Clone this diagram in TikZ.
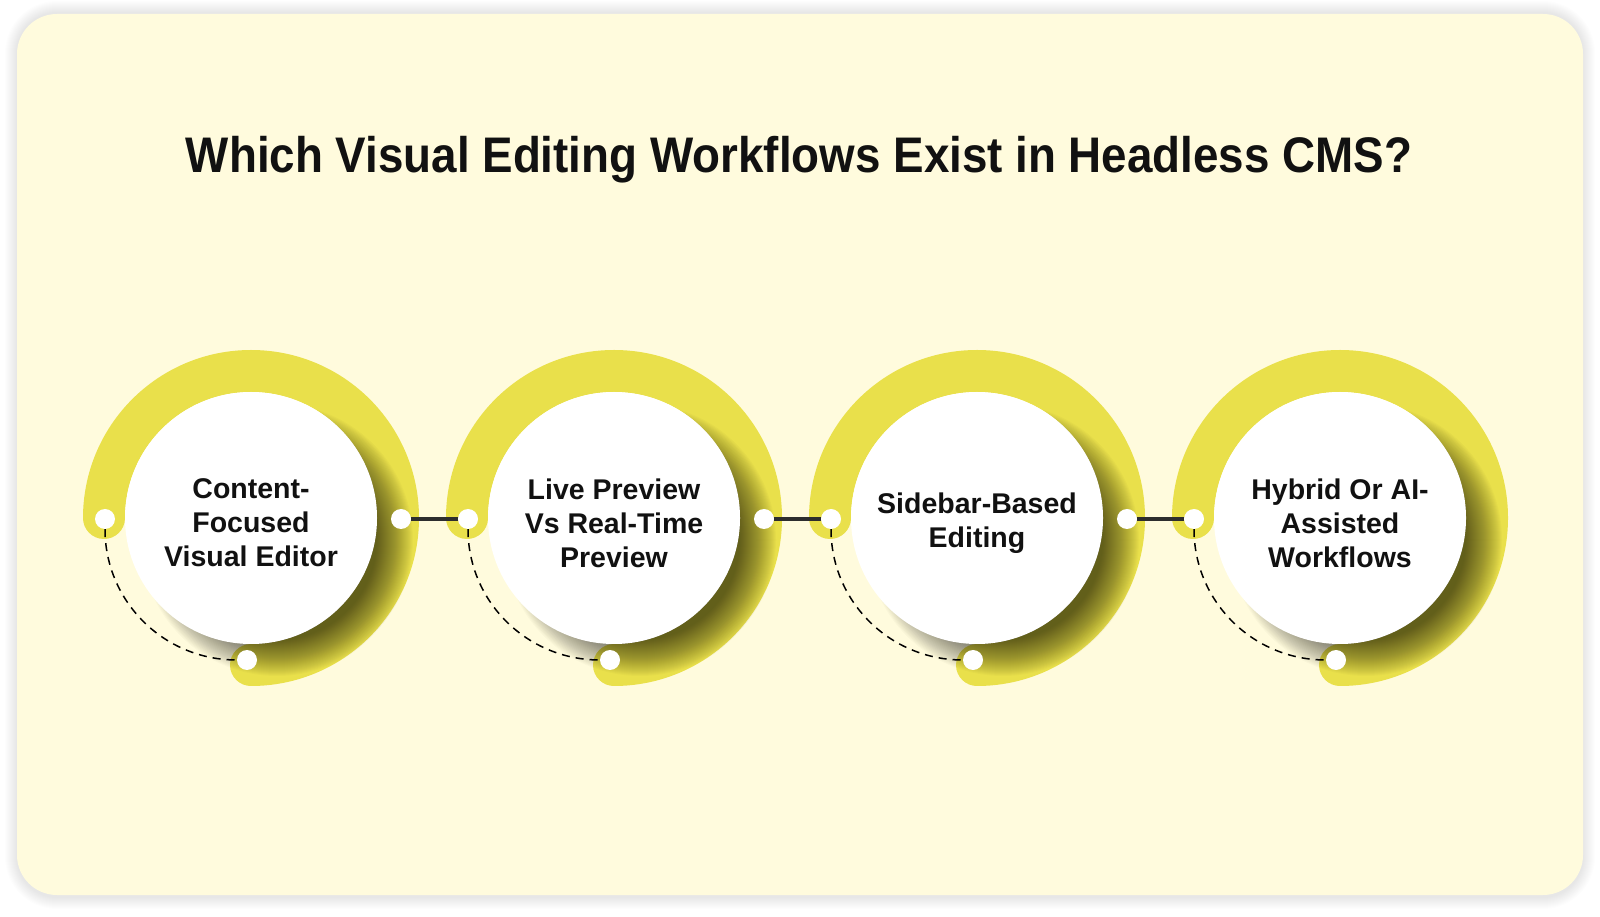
\documentclass[tikz,border=0pt]{standalone}
\usepackage{fontspec}
\setmainfont{Liberation Sans}
\definecolor{cardbg}{RGB}{255,251,221}
\definecolor{ringyellow}{RGB}{233,224,75}
\definecolor{linkgray}{RGB}{45,45,45}
\definecolor{ink}{RGB}{17,17,17}
\begin{document}
\begin{tikzpicture}[x=1pt,y=1pt,
  ring/.style={draw=ringyellow, line width=42pt, line cap=round},
  disc/.style={circle, fill=white, minimum size=252pt, inner sep=0pt},
  caption/.style={align=center, inner sep=0pt, font=\bfseries\fontsize{28.5}{34}\selectfont, text=ink},
  dot/.style={circle, fill=white, minimum size=20pt, inner sep=0pt},
  link/.style={draw=linkgray, line width=4pt},
  trail/.style={draw=black, line width=1.5pt, dash pattern=on 8pt off 6pt},
  heading/.style={font=\bfseries\fontsize{50}{60}\selectfont, text=ink, anchor=base},
]
\useasboundingbox (0,0) rectangle (1600,916);
\fill[white] (0,0) rectangle (1600,916);
% card shadow
\foreach \k in {1,...,12} {
  \pgfmathsetmacro\rc{40+\k}
  \fill[black, opacity=0.009, rounded corners=\rc pt] (17-\k,19-\k) rectangle (1583+\k,903+\k);
}
\fill[cardbg, rounded corners=40pt] (17,21) rectangle (1583,902);
% title
\node[heading] (title) at (799,743) {\scalebox{0.915}[1]{Which Visual Editing Workflows Exist in Headless CMS?}};
% circles
\foreach \i/\cx/\txt in {1/251/{Content-\\Focused\\Visual Editor},
                        2/614/{Live Preview\\Vs Real-Time\\Preview},
                        3/977/{Sidebar-Based\\Editing},
                        4/1340/{Hybrid Or AI-\\Assisted\\Workflows}} {
  \draw[ring] (\cx-147,398) arc[start angle=180, end angle=-90, radius=147];
  \begin{scope}
    \clip (\cx,398) circle[radius=169];
    \foreach \k in {0,...,36} {
      \fill[black, opacity=0.0185] (\cx+26,376) circle[radius=100+\k];
    }
  \end{scope}
  \node[disc] (c\i) at (\cx,398) {};
  \node[caption] (t\i) at (\cx,393) {\txt};
  \node[dot] (l\i) at (\cx-146,397) {};
  \node[dot] (b\i) at (\cx-4,256) {};
  \draw[trail] (l\i) to[out=-90, in=180] (b\i);
}
\node[dot] (r1) at (251+150,397) {};
\node[dot] (r2) at (614+150,397) {};
\node[dot] (r3) at (977+150,397) {};
\draw[link] (r1) -- (l2);
\draw[link] (r2) -- (l3);
\draw[link] (r3) -- (l4);
\end{tikzpicture}
\end{document}
